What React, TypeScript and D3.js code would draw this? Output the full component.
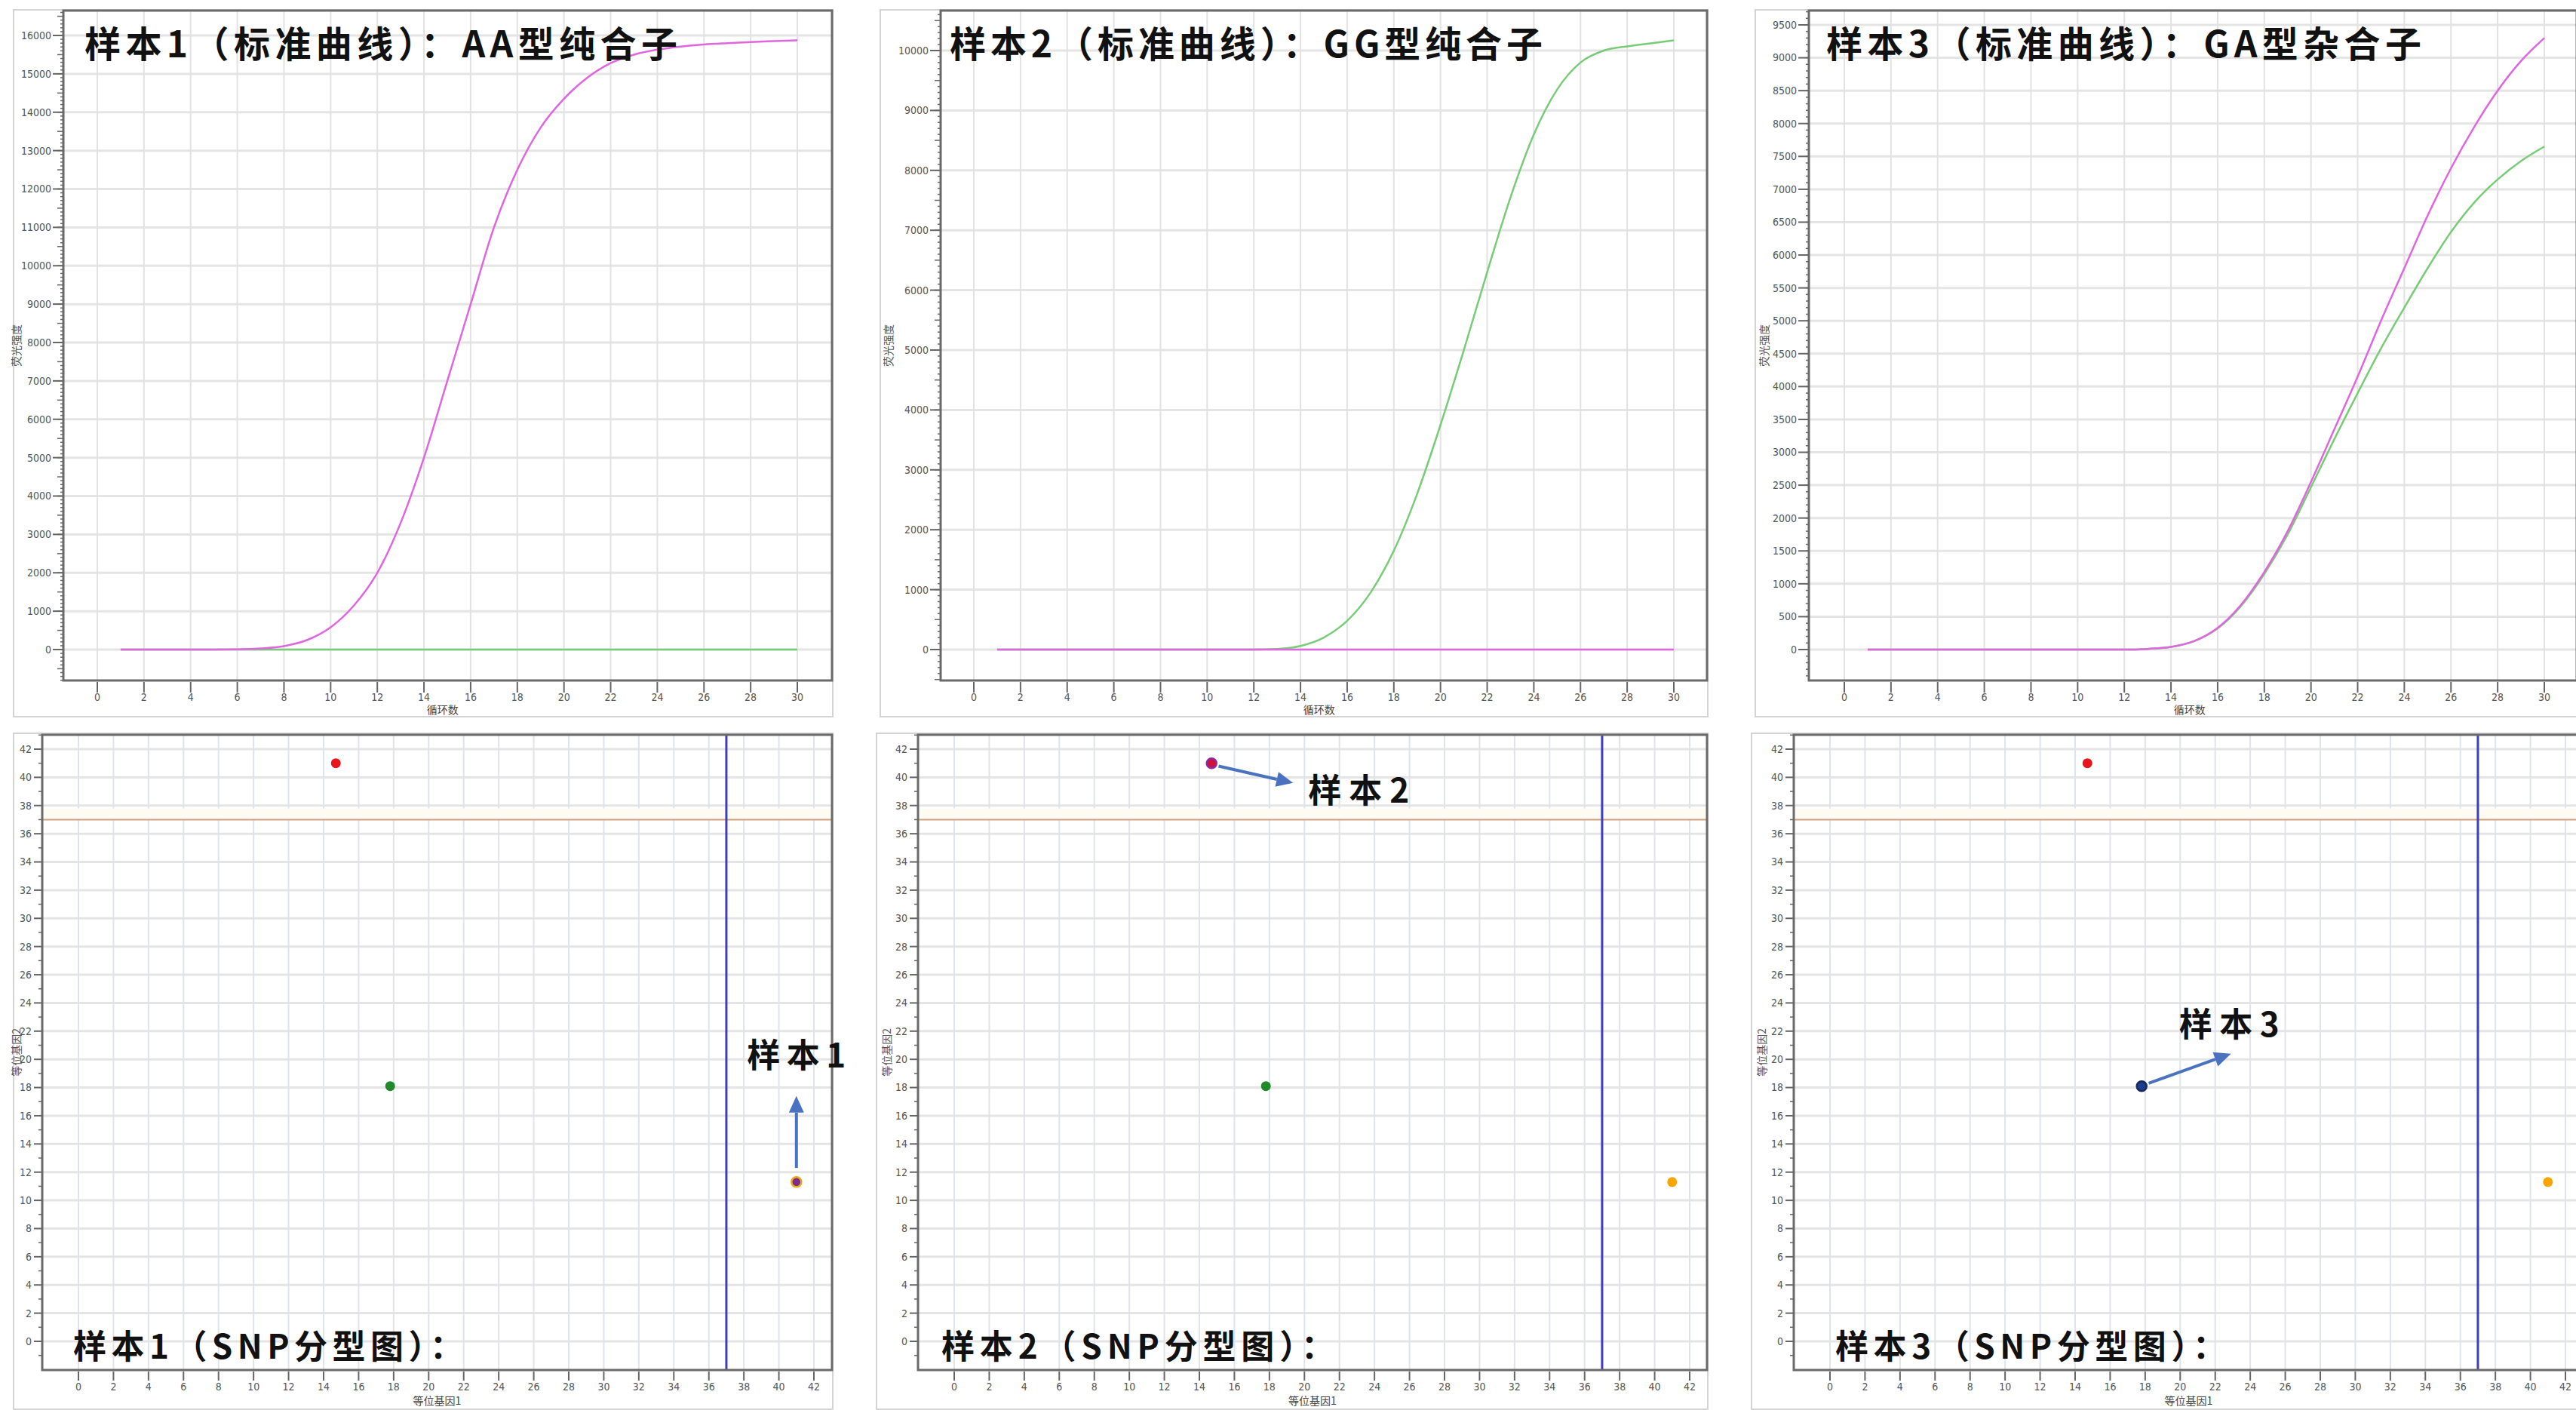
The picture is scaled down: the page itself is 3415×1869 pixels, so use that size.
import React from 'react';
import * as d3 from 'd3';

// ---------------- DATA ----------------
const cycles = [1, 2, 3, 4, 5, 6, 7, 8, 9, 10, 11, 12, 13, 14, 15, 16, 17, 18, 19, 20, 21, 22, 23, 24, 25, 26, 27, 28, 29, 30];

const s1Pink = [0, 0, 0, 0, 0, 5, 30, 90, 250, 580, 1150, 2000, 3300, 5000, 7000, 9000, 11000, 12500, 13600, 14350, 14900, 15280, 15500, 15630, 15710, 15765, 15800, 15830, 15855, 15875];
const s1Green = [0, 0, 0, 0, 0, 0, 0, 0, 0, 0, 0, 0, 0, 0, 0, 0, 0, 0, 0, 0, 0, 0, 0, 0, 0, 0, 0, 0, 0, 0];

const s2Pink = [0, 0, 0, 0, 0, 0, 0, 0, 0, 0, 0, 0, 0, 0, 0, 0, 0, 0, 0, 0, 0, 0, 0, 0, 0, 0, 0, 0, 0, 0];
const s2Green = [0, 0, 0, 0, 0, 0, 0, 0, 0, 0, 0, 0, 10, 60, 200, 480, 950, 1650, 2600, 3750, 5000, 6300, 7550, 8600, 9350, 9800, 10000, 10070, 10120, 10170];

const s3Pink = [0, 0, 0, 0, 0, 0, 0, 0, 0, 0, 0, 0, 10, 40, 130, 330, 680, 1180, 1800, 2550, 3350, 4150, 5000, 5800, 6600, 7320, 7950, 8500, 8950, 9300];
const s3Green = [0, 0, 0, 0, 0, 0, 0, 0, 0, 0, 0, 0, 10, 40, 128, 320, 660, 1150, 1750, 2470, 3200, 3900, 4580, 5200, 5800, 6350, 6800, 7150, 7430, 7650];

const curveXTicks = [0, 2, 4, 6, 8, 10, 12, 14, 16, 18, 20, 22, 24, 26, 28, 30];
const yTicks1 = [0, 1000, 2000, 3000, 4000, 5000, 6000, 7000, 8000, 9000, 10000, 11000, 12000, 13000, 14000, 15000, 16000];
const yTicks2 = [0, 1000, 2000, 3000, 4000, 5000, 6000, 7000, 8000, 9000, 10000];
const yTicks3 = [0, 500, 1000, 1500, 2000, 2500, 3000, 3500, 4000, 4500, 5000, 5500, 6000, 6500, 7000, 7500, 8000, 8500, 9000, 9500];

const snpTicks = [0, 2, 4, 6, 8, 10, 12, 14, 16, 18, 20, 22, 24, 26, 28, 30, 32, 34, 36, 38, 40, 42];
const snpX = [14.7, 17.8, 41.0];
const snpY = [41.0, 18.1, 11.3];
const thresholdX = 37;
const thresholdY = 37;

const topTitles = ['样本1（标准曲线）：AA型纯合子', '样本2（标准曲线）：GG型纯合子', '样本3（标准曲线）：GA型杂合子'];
const snpTitles = ['样本1（SNP分型图）：', '样本2（SNP分型图）：', '样本3（SNP分型图）：'];
const sampleLabels = ['样本1', '样本2', '样本3'];
// arrow start / end and label anchor in data units of each SNP plot
const arrowFrom = [[41.0, 12.3], [15.1, 40.8], [18.2, 18.3]];
const arrowTo = [[41.0, 17.4], [19.35, 39.6], [22.9, 20.4]];
const labelAt = [[41.0, 20.3], [23.1, 39.1], [22.8, 22.5]];

const curveXTitle = '循环数';
const curveYTitle = '荧光强度';
const snpXTitle = '等位基因1';
const snpYTitle = '等位基因2';

// ---------------- LAYOUT / STYLE ----------------
const W = 3415;
const H = 1869;
const FONT_TICK = '"Liberation Sans Narrow","DejaVu Sans Condensed","Liberation Sans","DejaVu Sans",sans-serif';
const FONT_CJK = '"Noto Sans CJK SC","Noto Sans CJK JP",sans-serif';
const PINK = '#e066e0';
const GREEN = '#78cc78';

const topCfg = [
  { frame: [18, 13, 1104, 950], plot: [84, 14, 1103, 902], xPx: [129, 1057], yPx: [861, 47], yRef: 16000, yTicks: yTicks1, pink: s1Pink, green: s1Green, titleSpan: [112, 898], yTitleX: 22, medium: 500 },
  { frame: [1167, 13, 2264, 950], plot: [1247, 14, 2263, 902], xPx: [1291, 2219], yPx: [861, 67], yRef: 10000, yTicks: yTicks2, pink: s2Pink, green: s2Green, titleSpan: [1259, 2045], yTitleX: 1178, medium: 500 },
  { frame: [2327, 13, 3440, 950], plot: [2398, 14, 3416, 902], xPx: [2445, 3373], yPx: [861, 33], yRef: 9500, yTicks: yTicks3, pink: s3Pink, green: s3Green, titleSpan: [2421, 3210], yTitleX: 2339, medium: 0 },
];

const snpCfg = [
  { frame: [18, 972, 1104, 1868], plot: [56, 974, 1103, 1816], xPx: [104, 1079], titleSpan: [97, 614], labelW: 131, yTitleX: 22,
    marks: [{ fill: '#e8141e', stroke: 'none' }, { fill: '#1f8a2a', stroke: 'none' }, { fill: '#7b2d8e', stroke: '#f2a51c' }] },
  { frame: [1162, 972, 2264, 1868], plot: [1217, 974, 2263, 1816], xPx: [1265, 2240], titleSpan: [1248, 1769], labelW: 134, yTitleX: 1176,
    marks: [{ fill: '#d0103a', stroke: '#8a2aa8' }, { fill: '#1f8a2a', stroke: 'none' }, { fill: '#f7a600', stroke: 'none' }] },
  { frame: [2322, 972, 3440, 1868], plot: [2378, 974, 3425, 1816], xPx: [2426, 3401], titleSpan: [2433, 2951], labelW: 133, yTitleX: 2336,
    marks: [{ fill: '#e8141e', stroke: 'none' }, { fill: '#1c3c8c', stroke: '#14285e' }, { fill: '#f7a600', stroke: 'none' }] },
];
const snpYPx = [1778, 993];

function CurvePanel({ cfg, idx }: any) {
  const [fx0, fy0, fx1, fy1] = cfg.frame;
  const [px0, py0, px1, py1] = cfg.plot;
  const x = d3.scaleLinear().domain([0, 30]).range(cfg.xPx);
  const y = d3.scaleLinear().domain([0, cfg.yRef]).range(cfg.yPx);
  const yMin = y.invert(py1);
  const yMax = y.invert(py0);
  const minor = d3.range(Math.ceil(yMin / 100) * 100, yMax, 100);
  const line = d3.line<number>().x((_, i) => x(cycles[i])).y((d) => y(d)).curve(d3.curveMonotoneX);
  return (
    <g>
      <rect x={fx0} y={fy0} width={fx1 - fx0} height={fy1 - fy0} fill="#fff" stroke="#d4d4d4" strokeWidth={2} />
      <rect x={px0} y={py0} width={px1 - px0} height={py1 - py0} fill="#fff" />
      {cfg.yTicks.map((t: number) => (
        <line key={'hg' + t} x1={px0} x2={px1} y1={y(t)} y2={y(t)} stroke="#e4e4e4" strokeWidth={3} />
      ))}
      {curveXTicks.map((t) => (
        <line key={'vg' + t} x1={x(t)} x2={x(t)} y1={py0} y2={py1} stroke="#e2e2e2" strokeWidth={2} />
      ))}
      <path d={line(cfg.green) || ''} fill="none" stroke={GREEN} strokeWidth={2.5} />
      <path d={line(cfg.pink) || ''} fill="none" stroke={PINK} strokeWidth={2.5} />
      <rect x={px0} y={py0} width={px1 - px0} height={py1 - py0} fill="none" stroke="#6a6a6a" strokeWidth={3} />
      {minor.map((t) => {
        const isMed = cfg.medium && Math.abs(t % cfg.medium) < 1e-6;
        return <line key={'mt' + t} x1={px0 - (isMed ? 8 : 4)} x2={px0} y1={y(t)} y2={y(t)} stroke="#666" strokeWidth={1.5} />;
      })}
      {cfg.yTicks.map((t: number) => (
        <g key={'yt' + t}>
          <line x1={px0 - 14} x2={px0} y1={y(t)} y2={y(t)} stroke="#666" strokeWidth={2} />
          <text x={px0 - 16} y={y(t)} dy="0.35em" textAnchor="end" fontFamily={FONT_TICK} fontSize={14} fill="#555">{t}</text>
        </g>
      ))}
      {curveXTicks.map((t) => (
        <g key={'xt' + t}>
          <line x1={x(t)} x2={x(t)} y1={py1 + 2} y2={py1 + 16} stroke="#666" strokeWidth={2} />
          <text x={x(t)} y={924} dy="0.35em" textAnchor="middle" fontFamily={FONT_TICK} fontSize={14} fill="#555">{t}</text>
        </g>
      ))}
      <text x={x(14.8)} y={941} dy="0.35em" textAnchor="middle" fontFamily={FONT_CJK} fontSize={14} fill="#444">{curveXTitle}</text>
      <text transform={`translate(${cfg.yTitleX},${(py0 + py1) / 2}) rotate(-90)`} dy="0.35em" textAnchor="middle" fontFamily={FONT_CJK} fontSize={14} fill="#555">{curveYTitle}</text>
      <text x={cfg.titleSpan[0]} y={76} textLength={cfg.titleSpan[1] - cfg.titleSpan[0]} lengthAdjust="spacing" fontFamily={FONT_CJK} fontWeight={700} fontSize={48} fill="#111">{topTitles[idx]}</text>
    </g>
  );
}

function Arrow({ x1, y1, x2, y2 }: any) {
  const ang = Math.atan2(y2 - y1, x2 - x1);
  const hl = 22;
  const hw = 10;
  const bx = x2 - hl * Math.cos(ang);
  const by = y2 - hl * Math.sin(ang);
  const nx = -Math.sin(ang);
  const ny = Math.cos(ang);
  const pts = `${x2},${y2} ${bx + nx * hw},${by + ny * hw} ${bx - nx * hw},${by - ny * hw}`;
  return (
    <g>
      <line x1={x1} y1={y1} x2={bx} y2={by} stroke="#4a72c0" strokeWidth={4} />
      <polygon points={pts} fill="#4a72c0" />
    </g>
  );
}

function SnpPanel({ cfg, idx }: any) {
  const [fx0, fy0, fx1, fy1] = cfg.frame;
  const [px0, py0, px1, py1] = cfg.plot;
  const x = d3.scaleLinear().domain([0, 42]).range(cfg.xPx);
  const y = d3.scaleLinear().domain([0, 42]).range(snpYPx);
  const oddY = d3.range(Math.ceil(y.invert(py1)), y.invert(py0), 1).filter((v) => Math.abs(v % 2) === 1);
  return (
    <g>
      <rect x={fx0} y={fy0} width={fx1 - fx0} height={fy1 - fy0} fill="#fff" stroke="#d4d4d4" strokeWidth={2} />
      <rect x={px0} y={py0} width={px1 - px0} height={py1 - py0} fill="#fff" />
      {snpTicks.map((t) => (
        <line key={'hg' + t} x1={px0} x2={px1} y1={y(t)} y2={y(t)} stroke="#e4e4e4" strokeWidth={3} />
      ))}
      {snpTicks.map((t) => (
        <line key={'vg' + t} x1={x(t)} x2={x(t)} y1={py0} y2={py1} stroke="#dfe3ea" strokeWidth={2} />
      ))}
      <rect x={px0} y={y(thresholdY + 0.8)} width={px1 - px0} height={y(thresholdY) - y(thresholdY + 0.8)} fill="#fefbf3" />
      <line x1={px0} x2={px1} y1={y(thresholdY)} y2={y(thresholdY)} stroke="#cfa07c" strokeWidth={2} />
      <line x1={x(thresholdX)} x2={x(thresholdX)} y1={py0} y2={py1} stroke="#3c3cc4" strokeWidth={3} />
      {snpX.map((v, i) => (
        <circle key={'pt' + i} cx={x(v)} cy={y(snpY[i])} r={6.5} fill={cfg.marks[i].fill}
          stroke={cfg.marks[i].stroke} strokeWidth={cfg.marks[i].stroke === 'none' ? 0 : 2.5} />
      ))}
      <rect x={px0} y={py0} width={px1 - px0} height={py1 - py0} fill="none" stroke="#6a6a6a" strokeWidth={3} />
      {oddY.map((t) => (
        <line key={'my' + t} x1={px0 - 5} x2={px0} y1={y(t)} y2={y(t)} stroke="#666" strokeWidth={1.5} />
      ))}
      {snpTicks.map((t) => (
        <g key={'yt' + t}>
          <line x1={px0 - 11} x2={px0} y1={y(t)} y2={y(t)} stroke="#666" strokeWidth={2} />
          <text x={px0 - 14} y={y(t)} dy="0.35em" textAnchor="end" fontFamily={FONT_TICK} fontSize={14} fill="#555">{t}</text>
        </g>
      ))}
      {snpTicks.map((t) => (
        <g key={'xt' + t}>
          <line x1={x(t)} x2={x(t)} y1={py1 + 2} y2={py1 + 14} stroke="#666" strokeWidth={2} />
          <text x={x(t)} y={1838} dy="0.35em" textAnchor="middle" fontFamily={FONT_TICK} fontSize={14} fill="#555">{t}</text>
        </g>
      ))}
      <text x={(px0 + px1) / 2} y={1857} dy="0.35em" textAnchor="middle" fontFamily={FONT_CJK} fontSize={14} fill="#444">{snpXTitle}</text>
      <text transform={`translate(${cfg.yTitleX},${y(20.5)}) rotate(-90)`} dy="0.35em" textAnchor="middle" fontFamily={FONT_CJK} fontSize={14} fill="#555">{snpYTitle}</text>
      <Arrow x1={x(arrowFrom[idx][0])} y1={y(arrowFrom[idx][1])} x2={x(arrowTo[idx][0])} y2={y(arrowTo[idx][1])} />
      <text x={x(labelAt[idx][0]) - cfg.labelW / 2} y={y(labelAt[idx][1])} dy="0.38em" textLength={cfg.labelW} lengthAdjust="spacing"
        fontFamily={FONT_CJK} fontWeight={700} fontSize={44} fill="#111">{sampleLabels[idx]}</text>
      <text x={cfg.titleSpan[0]} y={1801} textLength={cfg.titleSpan[1] - cfg.titleSpan[0]} lengthAdjust="spacing"
        fontFamily={FONT_CJK} fontWeight={700} fontSize={44} fill="#111">{snpTitles[idx]}</text>
    </g>
  );
}

export default function App() {
  return (
    <svg width={W} height={H} viewBox={`0 0 ${W} ${H}`} style={{ position: 'absolute', left: 0, top: 0, display: 'block', background: '#fff' }}>
      <rect x={0} y={0} width={W} height={H} fill="#fff" />
      {topCfg.map((c, i) => <CurvePanel key={'c' + i} cfg={c} idx={i} />)}
      {snpCfg.map((c, i) => <SnpPanel key={'s' + i} cfg={c} idx={i} />)}
    </svg>
  );
}
